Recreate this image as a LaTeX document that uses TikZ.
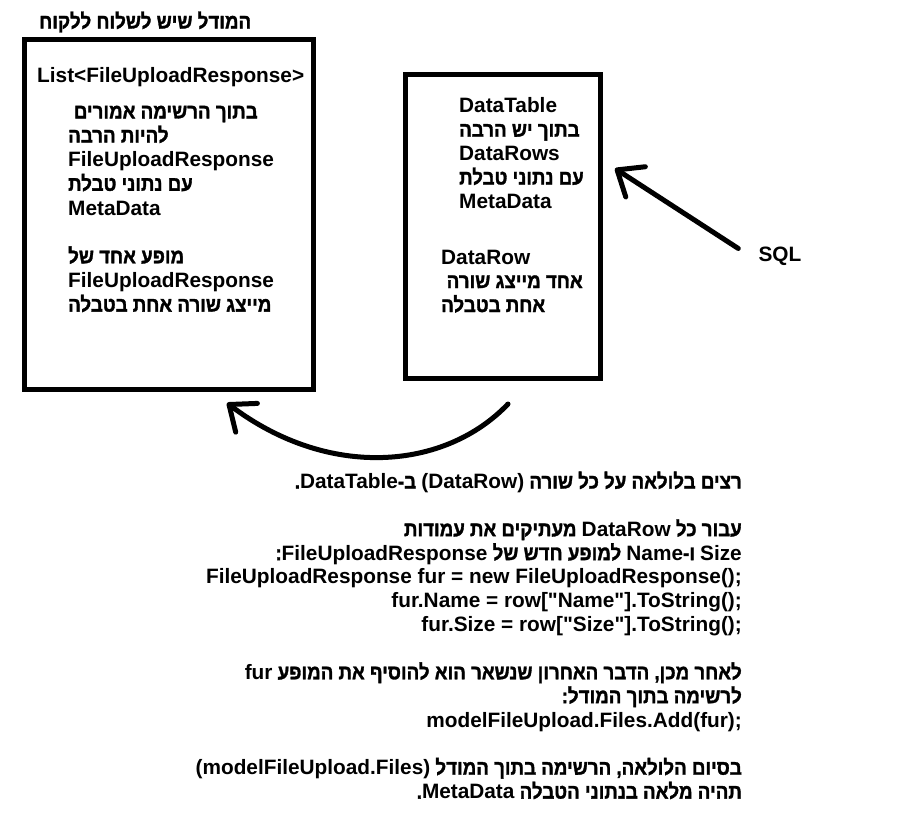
\documentclass[tikz,border=0pt]{standalone}
\usepackage{fontspec}
\setmainfont{Liberation Sans}
\newfontfamily\latfont{Liberation Sans}
\newfontfamily\hebfont[Script=Hebrew, FakeStretch=0.9, BoldFeatures={FakeBold=1.5}]{Liberation Sans}
\TeXXeTstate=1
\usetikzlibrary{arrows.meta}

\newcommand\hebline[1]{{\hebfont\beginR#1\endR}}
\newcommand\lat[1]{{\latfont#1}}

\tikzstyle{frame} = [draw, line width=5pt]
\tikzstyle{lline} = [anchor=base west, inner sep=0pt]
\tikzstyle{rline} = [anchor=base east, inner sep=0pt]
\tikzstyle{arr} = [line width=5pt, line cap=round, -{Straight Barb[length=22pt,width=36pt,round]}]

\begin{document}
\begin{tikzpicture}[x=1pt, y=-1pt, font=\latfont\fontsize{20.8}{24}\bfseries\selectfont]
  \fill[white] (0,0) rectangle (902,831);
  \useasboundingbox (0,0) rectangle (902,831);

  \node (model) at (169,214.5) [frame, minimum width=289pt, minimum height=350pt] {};
  \node (title) at (39,28.5) [lline] {\hebline{המודל שיש לשלוח ללקוח}};
  \node (list) at (37,82.7) [lline] {List<FileUploadResponse>};
  \node (m1) at (73.7,118.4) [lline] {\hebline{בתוך הרשימה אמורים}};
  \node (m2) at (68,142.5) [lline] {\hebline{להיות הרבה}};
  \node (m3) at (68,166.7) [lline] {FileUploadResponse};
  \node (m4) at (68,190.8) [lline] {\hebline{עם נתוני טבלת}};
  \node (m5) at (68,215) [lline] {MetaData};
  \node (m6) at (68,263.3) [lline] {\hebline{מופע אחד של}};
  \node (m7) at (68,287.5) [lline] {FileUploadResponse};
  \node (m8) at (68,311.6) [lline] {\hebline{מייצג שורה אחת בטבלה}};

  \node (table) at (503,226.5) [frame, minimum width=195pt, minimum height=304pt] {};
  \node (t1) at (459,112.7) [lline] {DataTable};
  \node (t2) at (459,136.7) [lline] {\hebline{בתוך יש הרבה}};
  \node (t3) at (459,160.7) [lline] {DataRows};
  \node (t4) at (459,184.5) [lline] {\hebline{עם נתוני טבלת}};
  \node (t5) at (459,208.3) [lline] {MetaData};
  \node (t6) at (441,264) [lline] {DataRow};
  \node (t7) at (446.5,288) [lline] {\hebline{אחד מייצג שורה}};
  \node (t8) at (441,312) [lline] {\hebline{אחת בטבלה}};

  \node (sql) at (758.3,261.7) [lline] {SQL};

  \node (s1) at (742,488.5) [rline] {\hebline{רצים בלולאה על כל שורה \lat{(DataRow)} ב-\lat{DataTable}.}};
  \node (s2) at (742,536.2) [rline] {\hebline{עבור כל \lat{DataRow} מעתיקים את עמודות}};
  \node (s3) at (742,560.1) [rline] {\hebline{\lat{Size} ו-\lat{Name} למופע חדש של \lat{FileUploadResponse}:}};
  \node (s4) at (742,583.9) [rline] {FileUploadResponse fur = new FileUploadResponse();};
  \node (s5) at (742,607.8) [rline] {fur.Name = row["Name"].ToString();};
  \node (s6) at (742,631.6) [rline] {fur.Size = row["Size"].ToString();};
  \node (s7) at (742,679.3) [rline] {\hebline{לאחר מכן, הדבר האחרון שנשאר הוא להוסיף את המופע \lat{fur}}};
  \node (s8) at (742,703.2) [rline] {\hebline{לרשימה בתוך המודל:}};
  \node (s9) at (742,727) [rline] {modelFileUpload.Files.Add(fur);};
  \node (s10) at (742,774.7) [rline] {\hebline{בסיום הלולאה, הרשימה בתוך המודל \lat{(modelFileUpload.Files)}}};
  \node (s11) at (742,798.6) [rline] {\hebline{תהיה מלאה בנתוני הטבלה \lat{MetaData}.}};

  \draw [arr] ([shift={(-20,-8)}]sql.west) -- ([shift={(12,-58)}]table.east);
  \draw [arr] ([shift={(5,23)}]table.south) .. controls +(-63,66) and +(102,77) .. ([shift={(58,11)}]model.south);
\end{tikzpicture}
\end{document}
